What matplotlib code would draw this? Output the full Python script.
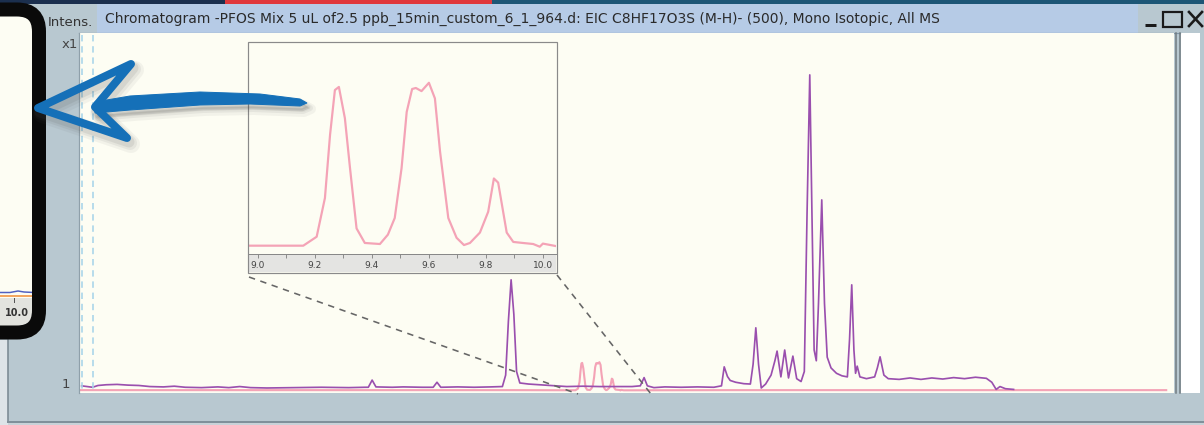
import matplotlib
matplotlib.use("Agg")
import matplotlib.pyplot as plt
from matplotlib.patches import Rectangle, FancyBboxPatch, Polygon

# ---------------- data ----------------
title = ("Chromatogram -PFOS Mix 5 uL of2.5 ppb_15min_custom_6_1_964.d: "
         "EIC C8HF17O3S (M-H)- (500), Mono Isotopic, All MS")

# purple trace (time [min], intensity)
purple_time = [0.10, 0.30, 0.40, 0.55, 0.75, 0.95, 1.15, 1.35, 1.60, 1.80, 2.00, 2.30,
               2.60, 2.80, 3.00, 3.20, 3.50, 4.00, 4.50, 5.00, 5.30, 5.36, 5.43, 5.50,
               5.80, 6.00, 6.35, 6.55, 6.62, 6.69, 7.00, 7.30, 7.60, 7.82, 7.88, 7.93,
               7.98, 8.03, 8.08, 8.14, 8.30, 8.50, 8.70, 9.00, 9.30, 9.60, 9.90, 10.20,
               10.35, 10.42, 10.48, 10.60, 10.80, 11.10, 11.40, 11.70, 11.84, 11.89, 11.95,
               12.00, 12.10, 12.25, 12.37, 12.42, 12.47, 12.52, 12.57, 12.65, 12.75, 12.82,
               12.86, 12.93, 13.00, 13.07, 13.15, 13.22, 13.30, 13.36, 13.41, 13.46, 13.50,
               13.54, 13.58, 13.62, 13.68, 13.73, 13.78, 13.85, 13.95, 14.05, 14.15, 14.19,
               14.23, 14.27, 14.30, 14.33, 14.38, 14.50, 14.65, 14.70, 14.75, 14.82, 14.90,
               15.10, 15.30, 15.50, 15.70, 15.90, 16.10, 16.30, 16.50, 16.70, 16.80, 16.88,
               16.95, 17.05, 17.20]
purple_int = [2.0, 1.6, 2.1, 2.3, 2.4, 2.2, 2.1, 1.8, 1.7, 1.9, 1.6, 1.5,
              1.7, 1.5, 1.8, 1.5, 1.4, 1.5, 1.6, 1.5, 1.6, 1.6, 3.6, 1.7,
              1.6, 1.7, 1.6, 1.6, 3.0, 1.6, 1.7, 1.6, 1.7, 1.8, 5.0, 20.0,
              31.6, 22.0, 6.0, 2.8, 2.5, 2.3, 2.1, 1.8, 1.9, 1.8, 1.8, 1.8,
              2.0, 4.3, 2.0, 1.5, 1.7, 1.6, 1.7, 1.6, 2.0, 7.3, 4.6,
              3.5, 3.0, 2.6, 2.5, 8.0, 18.2, 8.0, 1.4, 2.5, 5.0, 9.0,
              11.7, 4.5, 12.0, 4.2, 10.3, 4.0, 3.2, 6.0, 50.0, 88.8, 50.0,
              12.0, 9.0, 25.0, 53.9, 25.0, 10.0, 7.0, 5.5, 4.8, 4.5, 15.0,
              30.2, 12.0, 5.5, 7.5, 4.5, 4.0, 4.5, 7.0, 10.1, 5.0, 4.0,
              3.8, 4.2, 3.8, 4.2, 3.9, 4.3, 4.0, 4.4, 4.1, 3.0, 1.0,
              1.8, 1.2, 1.0]

# pink trace (time [min], intensity)
pink_time = [0.05, 2.0, 4.0, 6.0, 8.0, 8.966, 9.159, 9.206, 9.235, 9.253, 9.270, 9.284,
             9.305, 9.323, 9.346, 9.375, 9.428, 9.456, 9.480, 9.504, 9.522, 9.541, 9.554,
             9.574, 9.600, 9.621, 9.639, 9.668, 9.697, 9.723, 9.744, 9.779, 9.808, 9.828,
             9.843, 9.873, 9.896, 9.930, 9.966, 9.989, 10.000, 10.046, 12.0, 14.0, 16.0,
             18.0, 20.0]
pink_int = [0.8, 0.8, 0.8, 0.8, 0.8, 0.77, 0.77, 1.2, 3.06, 6.1, 8.25, 8.4,
            6.9, 4.5, 1.6, 0.9, 0.85, 1.3, 2.1, 4.5, 7.2, 8.3, 8.35,
            8.2, 8.6, 7.85, 5.3, 2.1, 1.15, 0.8, 0.9, 1.4, 2.4, 4.0,
            3.8, 1.4, 0.95, 0.9, 0.85, 0.72, 0.87, 0.75, 0.8, 0.8, 0.8,
            0.8, 0.8]

inset_ticks = [9.0, 9.2, 9.4, 9.6, 9.8, 10.0]
inset_tick_labels = ["9.0", "9.2", "9.4", "9.6", "9.8", "10.0"]
inset_minor = [9.1, 9.3, 9.5, 9.7, 9.9]

# ---------------- layout helpers ----------------
W, H = 1204, 425
PT = 0.72  # points per pixel at dpi 100
GRAY_BG = "#b8c8d0"
CREAM = "#fdfdf3"
PURPLE = "#9a4fae"
PINK = "#f4a3b6"

plt.rcParams["font.family"] = ["DejaVu Sans"]

fig = plt.figure(figsize=(12.04, 4.25), dpi=100)
fig.patch.set_facecolor(GRAY_BG)


def fa(x0, y0, x1, y1):
    return [x0 / W, 1 - y1 / H, (x1 - x0) / W, (y1 - y0) / H]


# background chrome
bg = fig.add_axes([0, 0, 1, 1], zorder=0)
bg.set_xlim(0, W)
bg.set_ylim(H, 0)
bg.axis("off")

bg.add_patch(Rectangle((0, 0), W, 3.5, color="#1d5676", lw=0))
bg.add_patch(Rectangle((0, 0), 225, 3.5, color="#1b2f4e", lw=0))
bg.add_patch(Rectangle((225, 0), 267, 3.5, color="#e0383c", lw=0))
bg.add_patch(Rectangle((97, 3.5), 1041, 29, color="#b6cbe6", lw=0))
bg.plot([79, 1180], [32.7, 32.7], color="#8096a6", lw=1.2 * PT)
# right edge
bg.add_patch(Rectangle((1181, 33), 19, 360, color="white", lw=0))
bg.plot([1175.5, 1175.5], [33, 393], color="#6f7a80", lw=1.5 * PT)
bg.plot([1179.5, 1179.5], [33, 393], color="#6f7a80", lw=1.5 * PT)
# bottom / left window edges
bg.add_patch(Rectangle((0, 340), 8, 85, color="#dde4e8", lw=0))
bg.plot([8, 8], [340, 422], color="#7a8a94", lw=1.6 * PT)
bg.plot([8, W], [421.5, 421.5], color="#80909a", lw=2 * PT)
bg.add_patch(Rectangle((8, 422.5), W, 3, color="#c8d2d8", lw=0))

bg.text(48, 22, "Intens.", fontsize=9.5, color="#333333", ha="left", va="center")
bg.text(105, 18.5, title, fontsize=10.0, color="#2a2a2a", ha="left", va="center")
bg.text(78, 44, "x1", fontsize=9.5, color="#444444", ha="right", va="center")
bg.text(70, 384, "1", fontsize=9.5, color="#444444", ha="right", va="center")

# window buttons
bg.plot([1145, 1156], [25, 25], color="#1a1a1a", lw=3 * PT, solid_capstyle="butt")
bg.add_patch(Rectangle((1163, 11.5), 19, 15.5, fill=False, ec="#1a1a1a", lw=2.2 * PT))
bg.plot([1189, 1202], [12, 26], color="#1a1a1a", lw=2.6 * PT)
bg.plot([1189, 1202], [26, 12], color="#1a1a1a", lw=2.6 * PT)

# ---------------- main chromatogram ----------------
x_px_per_min = 54.5
x0_px = 76.2
ax = fig.add_axes(fa(79, 33, 1174, 393), zorder=1)
ax.set_facecolor(CREAM)
ax.set_xlim((79 - x0_px) / x_px_per_min, (1174 - x0_px) / x_px_per_min)
ax.set_ylim(0, 100.5)
ax.plot(pink_time, pink_int, color=PINK, lw=2.1 * PT, zorder=2)
ax.plot(purple_time, purple_int, color=PURPLE, lw=1.7 * PT, zorder=3)
ax.set_xticks([])
ax.set_yticks([])
for s in ["top", "right", "bottom"]:
    ax.spines[s].set_visible(False)
ax.spines["left"].set_color("#8fa0aa")
ax.spines["left"].set_linewidth(1.2 * PT)

# ---------------- inset ----------------
ins = fig.add_axes(fa(248, 42, 556, 254), zorder=2)
ins.set_facecolor(CREAM)
ins.set_xlim(8.965, 10.046)
ins.set_ylim(0.37, 10.56)
ins.plot(pink_time, pink_int, color=PINK, lw=2.2 * PT)
ins.add_patch(Rectangle((0, -18 / 212), 1, 18 / 212, transform=ins.transAxes,
                        color="#e4e4e2", lw=0, clip_on=False, zorder=0))
ins.set_yticks([])
ins.set_xticks(inset_ticks)
ins.set_xticklabels(inset_tick_labels)
ins.set_xticks(inset_minor, minor=True)
ins.tick_params(axis="x", which="both", direction="out", length=3.5 * PT,
                width=0.8 * PT, color="#777777", labelsize=6.5, labelcolor="#444444",
                pad=2.5)
for s in ["top", "right", "left"]:
    ins.spines[s].set_visible(False)
ins.spines["bottom"].set_color("#888888")
ins.spines["bottom"].set_linewidth(1 * PT)

# ---------------- foreground overlay ----------------
fg = fig.add_axes([0, 0, 1, 1], zorder=3)
fg.patch.set_alpha(0)
fg.set_xlim(0, W)
fg.set_ylim(H, 0)
fg.axis("off")

# light blue dashed markers
for xv in (81.5, 93):
    fg.plot([xv, xv], [35, 393], color="#a8d4ea", lw=1.6 * PT, dashes=(4, 3))

# inset frame and zoom connectors
fg.add_patch(Rectangle((247.5, 41.5), 309, 231.5, fill=False, ec="#8a8a8a", lw=1.2 * PT))
fg.plot([249, 578], [277, 394], color="#666666", lw=1.6 * PT, dashes=(4, 3.5))
fg.plot([557, 651], [275, 394], color="#666666", lw=1.6 * PT, dashes=(4, 3.5))

# left black callout panel
fg.add_patch(FancyBboxPatch((-40, 9.5), 79, 323, boxstyle="round,pad=0,rounding_size=22",
                            fc=CREAM, ec="none", zorder=5))
fg.add_patch(Rectangle((0, 298), 34, 28, color="#e2e3de", lw=0, zorder=6))
fg.plot([0, 10, 18, 24, 34], [292.5, 292.5, 291, 292, 292.5], color="#5060c0", lw=1.5 * PT, zorder=6)
fg.plot([0, 34], [295.5, 295.5], color="#f08a30", lw=1.5 * PT, zorder=6)
fg.plot([14, 14], [298, 302], color="#555555", lw=1 * PT, zorder=6)
fg.text(17, 313, "10.0", fontsize=7, fontweight="bold", color="#333333",
        ha="center", va="center", zorder=6)
fg.add_patch(FancyBboxPatch((-40, 9.5), 79, 323, boxstyle="round,pad=0,rounding_size=22",
                            fc="none", ec="#0a0a0a", lw=14 * PT, zorder=7))

# blue arrow (with soft shadow)
head = [(131, 64), (38, 108), (127, 138), (95, 107)]
shaft = [(95, 102), (130, 96), (200, 92), (260, 94), (300, 99), (307, 103),
         (300, 106), (250, 104), (200, 105), (130, 110), (95, 113)]
for dx, dy, a, extra in [(4, 6, 0.06, 10), (3, 5, 0.08, 6), (2, 4, 0.10, 3)]:
    fg.add_patch(Polygon([(x + dx, y + dy) for x, y in head], closed=True, fill=False,
                         ec="#505050", lw=(8 + extra) * PT, alpha=a, joinstyle="round",
                         zorder=8))
    fg.add_patch(Polygon([(x + dx, y + dy) for x, y in shaft], closed=True,
                         fc="#505050", ec="#505050", lw=extra * PT, alpha=a,
                         joinstyle="round", zorder=8))
fg.add_patch(Polygon(head, closed=True, fill=False, ec="#1570b8", lw=8 * PT,
                     joinstyle="round", zorder=9))
fg.add_patch(Polygon(shaft, closed=True, fc="#1570b8", ec="#1570b8", lw=1 * PT, zorder=9))

fig.savefig("out.png", dpi=100, facecolor=fig.get_facecolor())
